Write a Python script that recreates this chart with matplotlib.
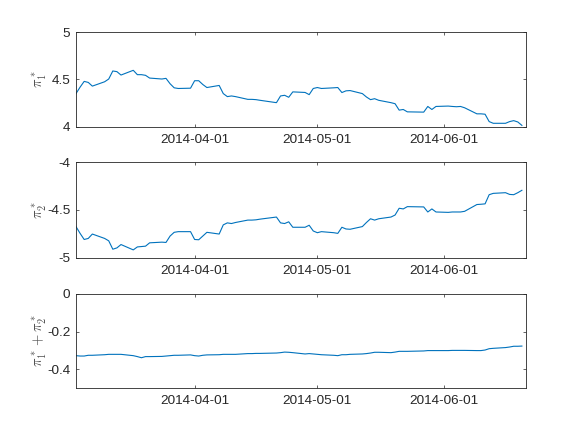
import numpy as np
import pandas as pd
import matplotlib
matplotlib.use("Agg")
import matplotlib.pyplot as plt
import matplotlib.dates as mdates
from matplotlib.ticker import FormatStrFormatter

# trading days, Good Friday and Memorial Day left out
dates = pd.bdate_range("2014-03-03", "2014-06-20").drop(
    pd.to_datetime(["2014-04-18", "2014-05-26"]))

pi1 = [
    4.350, 4.418, 4.479, 4.468, 4.429, 4.475, 4.504, 4.589, 4.582, 4.546, 4.596,
    4.550, 4.550, 4.543, 4.514, 4.504, 4.511, 4.454, 4.411, 4.404, 4.407,
    4.486, 4.486, 4.446, 4.414, 4.436, 4.350, 4.318, 4.325, 4.318, 4.289, 4.289,
    4.286, 4.279, 4.254, 4.325, 4.332, 4.311, 4.368, 4.362, 4.339, 4.404,
    4.414, 4.404, 4.411, 4.414, 4.361, 4.379, 4.382, 4.350, 4.314, 4.286, 4.296,
    4.279, 4.254, 4.243, 4.175, 4.182, 4.157, 4.154, 4.214, 4.182, 4.214,
    4.218, 4.214, 4.211, 4.214, 4.200, 4.136, 4.136, 4.132, 4.054, 4.036, 4.036,
    4.054, 4.064, 4.050, 4.014,
]

pi2 = [
    -4.674, -4.745, -4.809, -4.798, -4.752, -4.798, -4.823, -4.911, -4.897, -4.862, -4.918,
    -4.887, -4.883, -4.879, -4.844, -4.837, -4.840, -4.773, -4.734, -4.727, -4.727,
    -4.809, -4.812, -4.773, -4.734, -4.752, -4.656, -4.635, -4.642, -4.631, -4.606, -4.606,
    -4.603, -4.596, -4.574, -4.635, -4.642, -4.624, -4.681, -4.681, -4.660, -4.720,
    -4.738, -4.727, -4.738, -4.745, -4.681, -4.699, -4.702, -4.674, -4.631, -4.592, -4.606,
    -4.592, -4.574, -4.553, -4.482, -4.489, -4.465, -4.468, -4.521, -4.489, -4.521,
    -4.525, -4.521, -4.521, -4.521, -4.514, -4.443, -4.440, -4.436, -4.340, -4.326, -4.319,
    -4.337, -4.340, -4.319, -4.294,
]

pi_sum = [
    -0.328, -0.330, -0.330, -0.326, -0.326, -0.323, -0.321, -0.321, -0.321, -0.321, -0.328,
    -0.333, -0.339, -0.333, -0.333, -0.332, -0.330, -0.328, -0.326, -0.326, -0.324,
    -0.328, -0.330, -0.326, -0.324, -0.323, -0.321, -0.321, -0.321, -0.321, -0.317, -0.317,
    -0.316, -0.316, -0.314, -0.312, -0.309, -0.310, -0.312, -0.319, -0.317, -0.319,
    -0.321, -0.323, -0.326, -0.328, -0.323, -0.323, -0.321, -0.319, -0.317, -0.314, -0.310,
    -0.310, -0.312, -0.309, -0.305, -0.305, -0.305, -0.303, -0.301, -0.301, -0.301,
    -0.301, -0.300, -0.300, -0.300, -0.300, -0.301, -0.301, -0.298, -0.291, -0.289, -0.285,
    -0.282, -0.278, -0.278, -0.277,
]

xtick_dates = ["2014-04-01", "2014-05-01", "2014-06-01"]
x_range = ["2014-03-03", "2014-06-21"]

ylabels = [r"$\pi_1^*$", r"$\pi_2^*$", r"$\pi_1^* + \pi_2^*$"]
ylims = [(4, 5), (-5, -4), (-0.5, 0)]
yticks = [[4, 4.5, 5], [-5, -4.5, -4], [-0.4, -0.2, 0]]

plt.rcParams["font.family"] = ["Liberation Sans", "DejaVu Sans"]
plt.rcParams["mathtext.fontset"] = "cm"
plt.rcParams["axes.unicode_minus"] = False

fig = plt.figure(figsize=(5.81, 4.36), dpi=100)
positions = [
    [0.1308, 0.7094, 0.7745, 0.2170],
    [0.1308, 0.4089, 0.7745, 0.2190],
    [0.1308, 0.1101, 0.7745, 0.2156],
]
dark = (0.15, 0.15, 0.15)
series = [pi1, pi2, pi_sum]

for pos, values, label, ylim, ticks in zip(positions, series, ylabels, ylims, yticks):
    ax = fig.add_axes(pos)
    ax.plot(dates, values, color="#0072BD", lw=0.8)
    ax.set_xlim(pd.to_datetime(x_range[0]), pd.to_datetime(x_range[1]))
    ax.set_ylim(*ylim)
    ax.set_yticks(ticks)
    ax.yaxis.set_major_formatter(FormatStrFormatter("%g"))
    ax.set_xticks(pd.to_datetime(xtick_dates))
    ax.xaxis.set_major_formatter(mdates.DateFormatter("%Y-%m-%d"))
    ax.tick_params(direction="in", top=True, right=True, length=2.5, width=0.5,
                   labelsize=9.7, colors=dark)
    ax.tick_params(axis="x", pad=5)
    ax.tick_params(axis="y", pad=4)
    for sp in ax.spines.values():
        sp.set_color(dark)
        sp.set_linewidth(0.6)
    ax.set_ylabel(label, fontsize=10.5, color=(0.3, 0.3, 0.3))
    ax.yaxis.set_label_coords(-0.06, 0.5)

fig.savefig("out.png", dpi=100)
